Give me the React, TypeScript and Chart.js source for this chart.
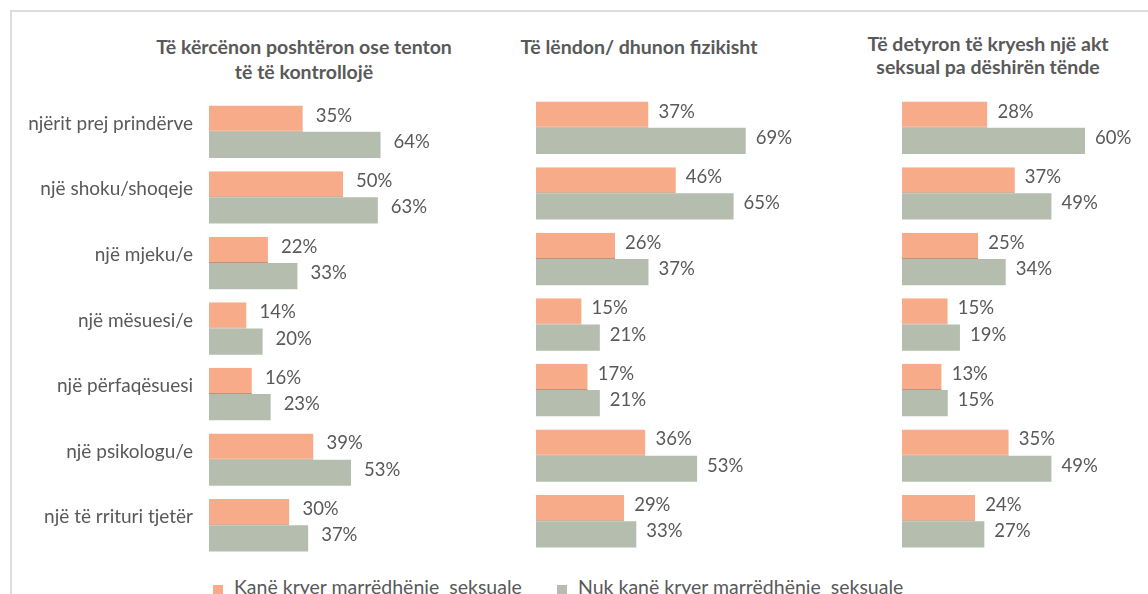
import React, { useEffect, useRef } from "react";
import { Chart, registerables } from "chart.js";

Chart.register(...registerables);

// ---- data ----
const categories = [
  "njërit prej prindërve",
  "një shoku/shoqeje",
  "një mjeku/e",
  "një mësuesi/e",
  "një përfaqësuesi",
  "një psikologu/e",
  "një të rrituri tjetër",
];
const seriesNames = [
  "Kanë kryer marrëdhënie  seksuale",
  "Nuk kanë kryer marrëdhënie  seksuale",
];
const titleThreaten = ["Të kërcënon poshtëron ose tenton", "të të kontrollojë"];
const titleHurt = ["Të lëndon/ dhunon fizikisht"];
const titleForced = ["Të detyron të kryesh një akt", "seksual pa dëshirën tënde"];

const threatenHad = [35, 50, 22, 14, 16, 39, 30];
const threatenNot = [64, 63, 33, 20, 23, 53, 37];
const hurtHad = [37, 46, 26, 15, 17, 36, 29];
const hurtNot = [69, 65, 37, 21, 21, 53, 33];
const forcedHad = [28, 37, 25, 15, 13, 35, 24];
const forcedNot = [60, 49, 34, 19, 15, 49, 27];

// ---- styles ----
const ORANGE = "#F8AB89";
const GREEN = "#B5BEAE";
const TEXT = "#595959";
const FONT = "Lato";

const valueLabels = {
  id: "valueLabels",
  afterDatasetsDraw(chart: any, _args: any, opts: any) {
    const ctx = chart.ctx;
    ctx.save();
    ctx.font = `18.5px ${FONT}`;
    ctx.fillStyle = TEXT;
    ctx.textAlign = "left";
    ctx.textBaseline = "middle";
    chart.data.datasets.forEach((ds: any, i: number) => {
      const meta = chart.getDatasetMeta(i);
      meta.data.forEach((el: any, j: number) => {
        ctx.fillText(ds.data[j] + "%", el.x + opts.gap, el.y + opts.dy);
      });
    });
    ctx.restore();
  },
};

type PanelProps = {
  had: number[];
  not: number[];
  left: number;
  top: number;
  axisWidth: number;
  plotWidth: number;
  height: number;
  gap: number;
  showCats: boolean;
};

function Panel(p: PanelProps) {
  const ref = useRef<HTMLCanvasElement | null>(null);
  const width = p.axisWidth + p.plotWidth + 70;
  useEffect(() => {
    if (!ref.current) return;
    const chart = new Chart(ref.current, {
      type: "bar",
      data: {
        labels: categories,
        datasets: [
          {
            label: seriesNames[0],
            data: p.had,
            backgroundColor: ORANGE,
            borderColor: "#B8957C",
            borderWidth: { top: 0, right: 0, bottom: 1, left: 0 },
            borderSkipped: false,
            barPercentage: 1,
            categoryPercentage: 0.8,
          },
          {
            label: seriesNames[1],
            data: p.not,
            backgroundColor: GREEN,
            borderWidth: 0,
            barPercentage: 1,
            categoryPercentage: 0.8,
          },
        ],
      },
      options: {
        indexAxis: "y",
        responsive: false,
        animation: false,
        devicePixelRatio: 1,
        layout: { padding: { left: 0, right: 70, top: 0, bottom: 0 } },
        plugins: {
          legend: { display: false },
          tooltip: { enabled: false },
          title: { display: false },
          valueLabels: { gap: p.gap, dy: -3 },
        } as any,
        scales: {
          x: { display: false, min: 0, max: 100 },
          y: {
            display: p.showCats,
            grid: { display: false },
            border: { display: false },
            ticks: {
              color: TEXT,
              font: { family: FONT, size: 19 },
              padding: 8,
              labelOffset: -8,
            },
            afterFit: (scale: any) => {
              scale.width = p.axisWidth;
              scale.paddingTop = 0;
              scale.paddingBottom = 0;
            },
          },
        },
      },
      plugins: [valueLabels],
    });
    return () => chart.destroy();
  }, []);
  return (
    <canvas
      ref={ref}
      width={width}
      height={p.height}
      style={{ position: "absolute", left: p.left, top: p.top, width, height: p.height }}
    />
  );
}

function Title({ lines, cx, top, lh }: { lines: string[]; cx: number; top: number; lh: number }) {
  return (
    <div
      style={{
        position: "absolute",
        left: cx - 200,
        top,
        width: 400,
        textAlign: "center",
        fontFamily: FONT,
        fontWeight: 700,
        fontSize: 19.5,
        lineHeight: `${lh}px`,
        color: TEXT,
        whiteSpace: "nowrap",
      }}
    >
      {lines.map((l, i) => (
        <div key={i}>{l}</div>
      ))}
    </div>
  );
}

const legendText = {
  position: "absolute" as const,
  top: 576,
  fontFamily: FONT,
  fontSize: 19.5,
  lineHeight: "22px",
  color: TEXT,
  whiteSpace: "pre" as const,
};

export default function App() {
  return (
    <div
      style={{
        position: "fixed",
        left: 0,
        top: 0,
        width: 1148,
        height: 594,
        overflow: "hidden",
        background: "#fff",
      }}
    >
      <div
        style={{
          position: "absolute",
          left: 10,
          top: 10,
          width: 1200,
          height: 700,
          border: "2px solid #DCDCDC",
        }}
      />
      <Title lines={titleThreaten} cx={304} top={34} lh={25} />
      <Title lines={titleHurt} cx={639} top={34} lh={25} />
      <Title lines={titleForced} cx={988} top={32} lh={23} />

      <Panel had={threatenHad} not={threatenNot} left={20} top={99} axisWidth={189} plotWidth={268} height={459} gap={13} showCats={true} />
      <Panel had={hurtHad} not={hurtNot} left={536} top={95} axisWidth={0} plotWidth={304} height={459} gap={10} showCats={false} />
      <Panel had={forcedHad} not={forcedNot} left={902} top={95} axisWidth={0} plotWidth={305} height={459} gap={10} showCats={false} />

      <div style={{ position: "absolute", left: 213, top: 585, width: 10, height: 10, background: ORANGE }} />
      <div style={{ ...legendText, left: 234 }}>{seriesNames[0]}</div>
      <div style={{ position: "absolute", left: 557, top: 585, width: 10, height: 10, background: GREEN }} />
      <div style={{ ...legendText, left: 578 }}>{seriesNames[1]}</div>
    </div>
  );
}
